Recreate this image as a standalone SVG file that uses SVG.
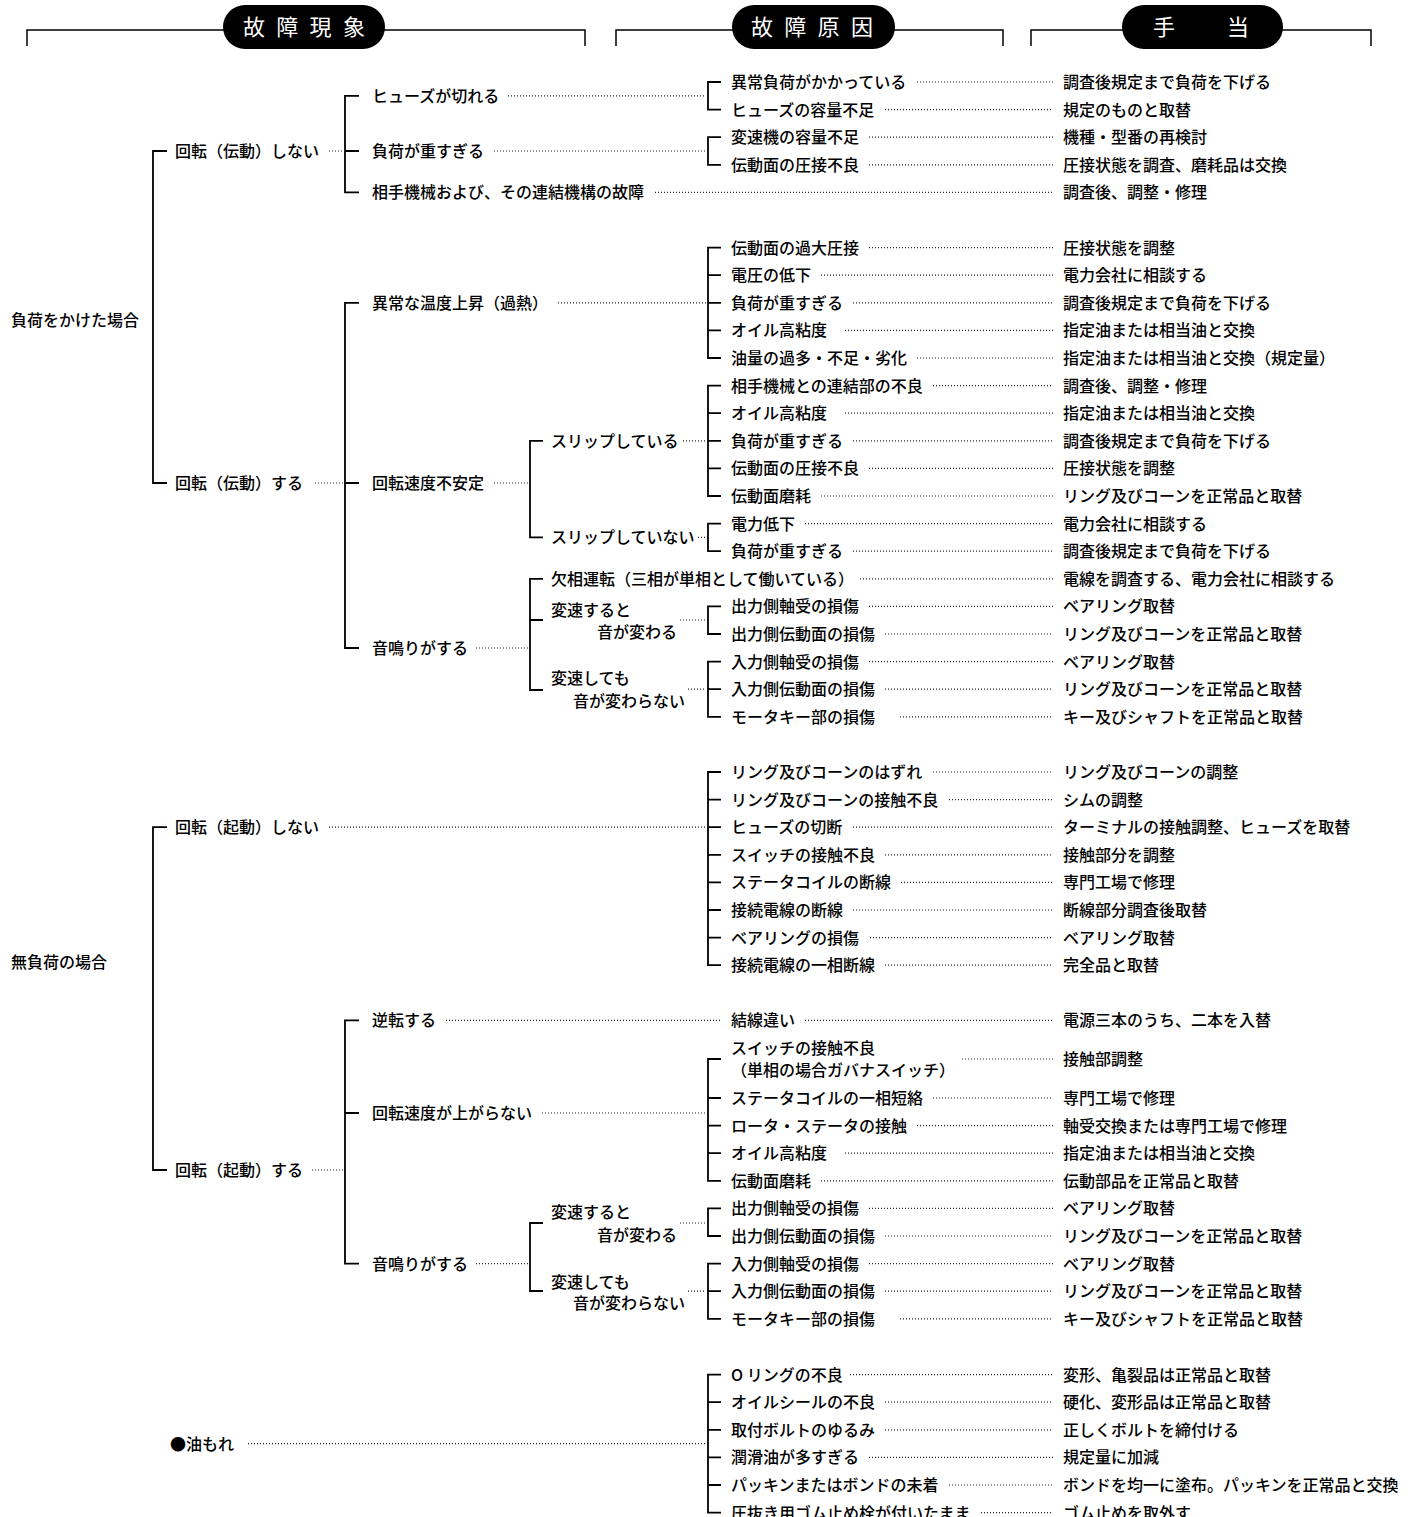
<svg xmlns="http://www.w3.org/2000/svg" width="1408" height="1517" viewBox="0 0 1408 1517">
<style>
text{font-family:"Noto Sans CJK JP","Noto Sans",sans-serif;font-size:16px;font-weight:500;fill:#000}
.h{font-size:22px;font-weight:400;fill:#fff;letter-spacing:11.3px}
.pill{fill:#000}
.hl{fill:none;stroke:#000;stroke-width:1.5}
.br{fill:none;stroke:#000;stroke-width:1.8}
.dot{fill:none;stroke:#222;stroke-width:1.2;stroke-dasharray:1 2}
</style>
<rect width="1408" height="1517" fill="#fff"/>
<g id="header">
<path class="hl" d="M27 46V30H585V46M616 46V30H1003V46M1031 46V30H1371V46"/>
<g id="h1"><rect class="pill" x="223" y="5" width="162" height="44" rx="22"/><text class="h" x="243" y="35">故障現象</text></g>
<g id="h2"><rect class="pill" x="732" y="5" width="163" height="44" rx="22"/><text class="h" x="751" y="35">故障原因</text></g>
<g id="h3"><rect class="pill" x="1122" y="5" width="161" height="44" rx="22"/><text class="h" x="1153" y="35" style="letter-spacing:15px">手　当</text></g>
</g>
<g id="connectors">
<path class="br" d="M167 151H153V483H167M167 827.2H153V1170H167"/>
<path class="br" d="M359 95.8H345V192.4H359M345 151H359M359 302.8H345V648H359M345 483H359M359 1020.4H345V1263.6H359M345 1113H359"/>
<path class="br" d="M543 440.8H530V537.4H543M543 578.8H530V690H543M530 620H543M543 1223H530V1291H543"/>
<path class="br" d="M721 82H708V109.6H721M721 137.2H708V164.8H721
M721 247.6H708V358H721M708 275.2H721M708 302.8H721M708 330.4H721
M721 385.6H708V496H721M708 413.2H721M708 440.8H721M708 468.4H721
M721 523.6H708V551.2H721M721 606.4H708V634H721
M721 661.6H708V716.8H721M708 689.2H721
M721 772H708V965.2H721M708 799.6H721M708 827.2H721M708 854.8H721M708 882.4H721M708 910H721M708 937.6H721
M721 1059H708V1180.8H721M708 1098H721M708 1125.6H721M708 1153.2H721
M721 1208.4H708V1236H721M721 1263.6H708V1318.8H721M708 1291.2H721
M721 1374.6H708V1512.6H721M708 1402.2H721M708 1429.8H721M708 1457.4H721M708 1485H721"/>
<path class="dot" d="M329 151H345M508 95.8H706M494 151H706M655 192.4H1053
M917 82H1053M885 109.6H1053M869 137.2H1053M869 164.8H1053
M315 483H345M558 302.8H706M494 483H530M476 648H530M683 440.8H706M698 537.4H706M680 620H706M688 689.2H706
M869 247.6H1053M821 275.2H1053M853 302.8H1053M845 330.4H1053M917 358H1053M933 385.6H1053M845 413.2H1053M853 440.8H1053M869 468.4H1053M821 496H1053M805 523.6H1053M853 551.2H1053M860 578.8H1053M869 606.4H1053M885 634H1053M869 661.6H1053M885 689.2H1053M900 716.8H1053
M329 827.2H706M933 772H1053M949 799.6H1053M853 827.2H1053M885 854.8H1053M901 882.4H1053M853 910H1053M870 937.6H1053M885 965.2H1053
M312 1170H345M446 1020.4H720M805 1020.4H1053M962 1059H1053M542 1113H706M476 1263.6H530M680 1223H706M688 1291.2H706
M933 1098H1053M917 1125.6H1053M845 1153.2H1053M821 1180.8H1053M869 1208.4H1053M885 1236H1053M869 1263.6H1053M885 1291.2H1053M900 1318.8H1053
M248 1443.6H706M850 1374.6H1053M885 1402.2H1053M885 1429.8H1053M869 1457.4H1053M949 1485H1053M981 1512.6H1053"/>
</g>
<g id="n-load"><text x="11" y="326">負荷をかけた場合</text></g>
<g id="n-noload"><text x="11" y="968">無負荷の場合</text></g>
<g id="n-leak"><text x="170" y="1449.6">●油もれ</text></g>
<g id="l1"><text x="175" y="157">回転（伝動）しない</text><text x="175" y="489">回転（伝動）する</text><text x="175" y="833.2">回転（起動）しない</text><text x="175" y="1176">回転（起動）する</text></g>
<g id="l2"><text x="372" y="101.8">ヒューズが切れる</text><text x="372" y="157">負荷が重すぎる</text><text x="372" y="198.4">相手機械および、その連結機構の故障</text>
<text x="372" y="308.8">異常な温度上昇（過熱）</text><text x="372" y="489">回転速度不安定</text><text x="372" y="654">音鳴りがする</text>
<text x="372" y="1026.4">逆転する</text><text x="372" y="1119">回転速度が上がらない</text><text x="372" y="1269.6">音鳴りがする</text></g>
<g id="l3"><text x="551" y="446.8">スリップしている</text><text x="551" y="543.4">スリップしていない</text><text x="551" y="584.8">欠相運転（三相が単相として働いている）</text>
<text x="551" y="616">変速すると</text><text x="597" y="638">音が変わる</text><text x="551" y="684">変速しても</text><text x="573" y="707">音が変わらない</text>
<text x="551" y="1218">変速すると</text><text x="597" y="1241">音が変わる</text><text x="551" y="1288">変速しても</text><text x="573" y="1309">音が変わらない</text></g>
<g id="causes">
<text x="731" y="88">異常負荷がかかっている</text><text x="731" y="115.6">ヒューズの容量不足</text><text x="731" y="143.2">変速機の容量不足</text><text x="731" y="170.8">伝動面の圧接不良</text>
<text x="731" y="253.6">伝動面の過大圧接</text><text x="731" y="281.2">電圧の低下</text><text x="731" y="308.8">負荷が重すぎる</text><text x="731" y="336.4">オイル高粘度</text><text x="731" y="364">油量の過多・不足・劣化</text>
<text x="731" y="391.6">相手機械との連結部の不良</text><text x="731" y="419.2">オイル高粘度</text><text x="731" y="446.8">負荷が重すぎる</text><text x="731" y="474.4">伝動面の圧接不良</text><text x="731" y="502">伝動面磨耗</text>
<text x="731" y="529.6">電力低下</text><text x="731" y="557.2">負荷が重すぎる</text>
<text x="731" y="612.4">出力側軸受の損傷</text><text x="731" y="640">出力側伝動面の損傷</text><text x="731" y="667.6">入力側軸受の損傷</text><text x="731" y="695.2">入力側伝動面の損傷</text><text x="731" y="722.8">モータキー部の損傷</text>
<text x="731" y="778">リング及びコーンのはずれ</text><text x="731" y="805.6">リング及びコーンの接触不良</text><text x="731" y="833.2">ヒューズの切断</text><text x="731" y="860.8">スイッチの接触不良</text><text x="731" y="888.4">ステータコイルの断線</text><text x="731" y="916">接続電線の断線</text><text x="731" y="943.6">ベアリングの損傷</text><text x="731" y="971.2">接続電線の一相断線</text>
<text x="731" y="1026.4">結線違い</text><text x="731" y="1054">スイッチの接触不良</text><text x="731" y="1076">（単相の場合ガバナスイッチ）</text>
<text x="731" y="1104">ステータコイルの一相短絡</text><text x="731" y="1131.6">ロータ・ステータの接触</text><text x="731" y="1159.2">オイル高粘度</text><text x="731" y="1186.8">伝動面磨耗</text>
<text x="731" y="1214.4">出力側軸受の損傷</text><text x="731" y="1242">出力側伝動面の損傷</text><text x="731" y="1269.6">入力側軸受の損傷</text><text x="731" y="1297.2">入力側伝動面の損傷</text><text x="731" y="1324.8">モータキー部の損傷</text>
<text x="731" y="1380.6">O リングの不良</text><text x="731" y="1408.2">オイルシールの不良</text><text x="731" y="1435.8">取付ボルトのゆるみ</text><text x="731" y="1463.4">潤滑油が多すぎる</text><text x="731" y="1491">パッキンまたはボンドの未着</text><text x="731" y="1518.6">圧抜き用ゴム止め栓が付いたまま</text>
</g>
<g id="remedies">
<text x="1063" y="88">調査後規定まで負荷を下げる</text><text x="1063" y="115.6">規定のものと取替</text><text x="1063" y="143.2">機種・型番の再検討</text><text x="1063" y="170.8">圧接状態を調査、磨耗品は交換</text><text x="1063" y="198.4">調査後、調整・修理</text>
<text x="1063" y="253.6">圧接状態を調整</text><text x="1063" y="281.2">電力会社に相談する</text><text x="1063" y="308.8">調査後規定まで負荷を下げる</text><text x="1063" y="336.4">指定油または相当油と交換</text><text x="1063" y="364">指定油または相当油と交換（規定量）</text>
<text x="1063" y="391.6">調査後、調整・修理</text><text x="1063" y="419.2">指定油または相当油と交換</text><text x="1063" y="446.8">調査後規定まで負荷を下げる</text><text x="1063" y="474.4">圧接状態を調整</text><text x="1063" y="502">リング及びコーンを正常品と取替</text>
<text x="1063" y="529.6">電力会社に相談する</text><text x="1063" y="557.2">調査後規定まで負荷を下げる</text><text x="1063" y="584.8">電線を調査する、電力会社に相談する</text>
<text x="1063" y="612.4">ベアリング取替</text><text x="1063" y="640">リング及びコーンを正常品と取替</text><text x="1063" y="667.6">ベアリング取替</text><text x="1063" y="695.2">リング及びコーンを正常品と取替</text><text x="1063" y="722.8">キー及びシャフトを正常品と取替</text>
<text x="1063" y="778">リング及びコーンの調整</text><text x="1063" y="805.6">シムの調整</text><text x="1063" y="833.2">ターミナルの接触調整、ヒューズを取替</text><text x="1063" y="860.8">接触部分を調整</text><text x="1063" y="888.4">専門工場で修理</text><text x="1063" y="916">断線部分調査後取替</text><text x="1063" y="943.6">ベアリング取替</text><text x="1063" y="971.2">完全品と取替</text>
<text x="1063" y="1026.4">電源三本のうち、二本を入替</text><text x="1063" y="1065">接触部調整</text>
<text x="1063" y="1104">専門工場で修理</text><text x="1063" y="1131.6">軸受交換または専門工場で修理</text><text x="1063" y="1159.2">指定油または相当油と交換</text><text x="1063" y="1186.8">伝動部品を正常品と取替</text>
<text x="1063" y="1214.4">ベアリング取替</text><text x="1063" y="1242">リング及びコーンを正常品と取替</text><text x="1063" y="1269.6">ベアリング取替</text><text x="1063" y="1297.2">リング及びコーンを正常品と取替</text><text x="1063" y="1324.8">キー及びシャフトを正常品と取替</text>
<text x="1063" y="1380.6">変形、亀裂品は正常品と取替</text><text x="1063" y="1408.2">硬化、変形品は正常品と取替</text><text x="1063" y="1435.8">正しくボルトを締付ける</text><text x="1063" y="1463.4">規定量に加減</text><text x="1063" y="1491">ボンドを均一に塗布。パッキンを正常品と交換</text><text x="1063" y="1518.6">ゴム止めを取外す</text>
</g>
</svg>
